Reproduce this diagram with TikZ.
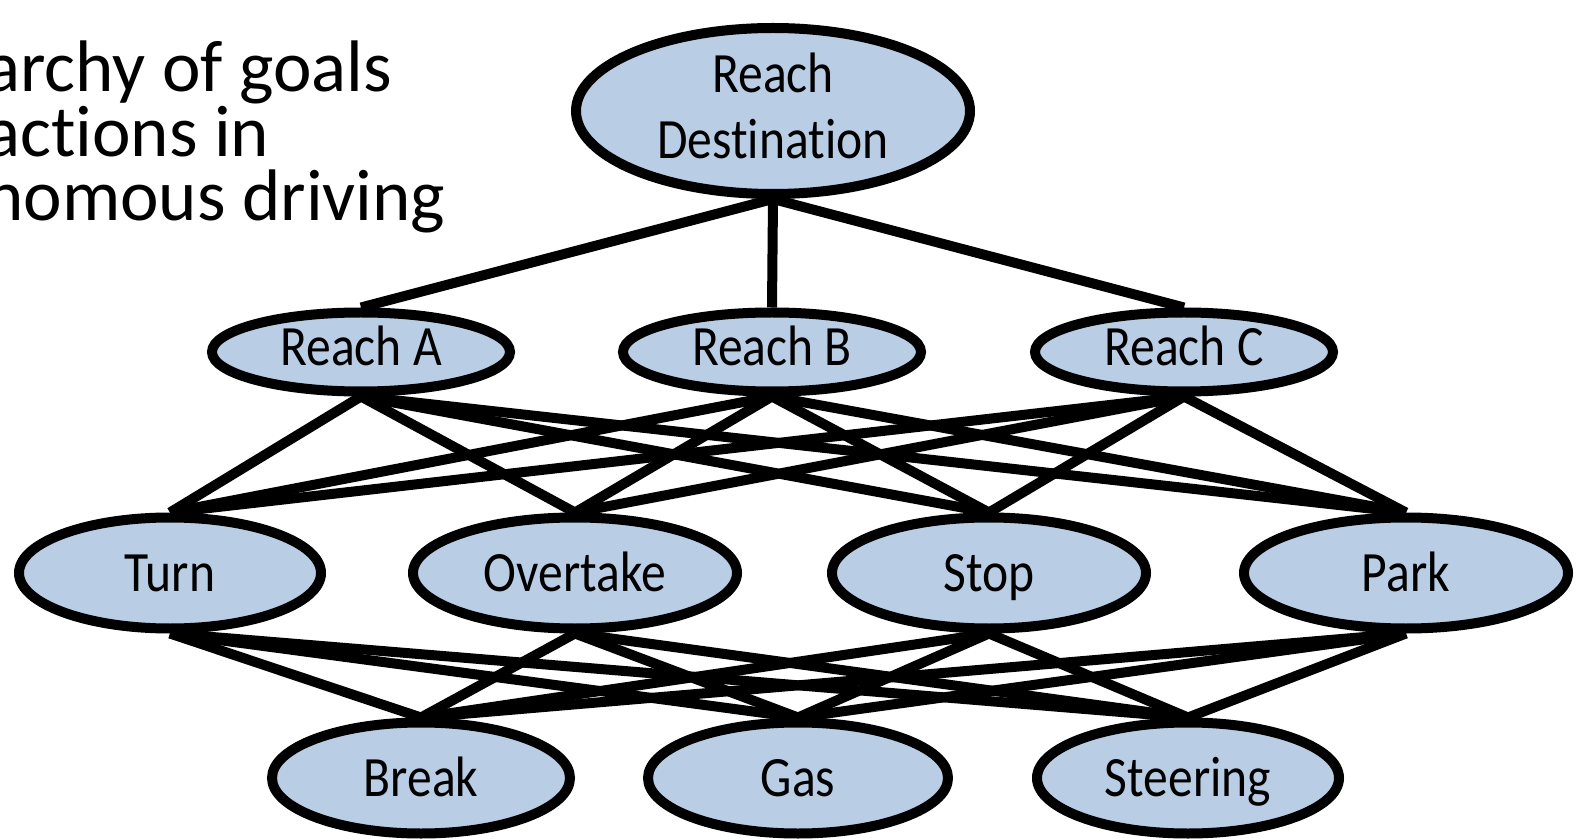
\documentclass[tikz,border=0pt]{standalone}
\usepackage{fontspec}
\setmainfont[Ligatures=NoCommon]{Carlito}
\newfontfamily\nodefont[FakeStretch=0.87,Ligatures=NoCommon]{Carlito}
\usetikzlibrary{shapes.geometric}
\pgfdeclarelayer{edges}
\pgfsetlayers{edges,main}
\definecolor{goalfill}{HTML}{B9CDE5}
\begin{document}
\begin{tikzpicture}[x=0.5pt,y=-0.5pt,
  goal/.style={ellipse, draw=black, line width=5pt, fill=goalfill,
    inner sep=0pt, align=center,
    font=\nodefont\fontsize{28.5pt}{33pt}\selectfont},
  goalwide/.style={goal, minimum width=#1, minimum height=55.5pt,
    text height=18pt, text depth=0pt},
  reach/.style={goal, minimum width=149pt, minimum height=39.5pt,
    text height=18pt, text depth=4pt},
  link/.style={line width=5pt, draw=black}]
\clip (0,0) rectangle (1585,839);

% title, running off the left edge
\node[anchor=base west, align=left, inner sep=0pt,
  font=\fontsize{36.5pt}{32.3pt}\selectfont] (title) at (-15,221)
  {archy of goals\\actions in\\nomous driving};

% top goal
\node[goal, minimum width=197pt, minimum height=83pt, text depth=5pt]
  (dest) at (773,111) {Reach\\Destination};

% intermediate goals
\node[reach] (ra) at (361,352) {Reach A};
\node[reach] (rb) at (772,352) {Reach B};
\node[reach] (rc) at (1184,352) {Reach C};

% manoeuvres
\node[goalwide=151pt] (turn) at (170,573) {Turn};
\node[goalwide=162pt] (over) at (575,573) {Overtake};
\node[goalwide=157pt] (stop) at (989,573) {Stop};
\node[goalwide=162pt] (park) at (1406,573) {Park};

% low-level actions
\node[goalwide=149pt] (brk) at (421,778) {Break};
\node[goalwide=150pt] (gas) at (798,778) {Gas};
\node[goalwide=151pt] (steer) at (1188,778) {Steering};

% connectors, drawn beneath the ellipses
\begin{pgfonlayer}{edges}
  \foreach \t in {ra,rb,rc}
    \draw[link] (dest.south) -- (\t.north);
  \foreach \s in {ra,rb,rc}
    \foreach \t in {turn,over,stop,park}
      \draw[link] (\s.south) -- (\t.north);
  \foreach \s in {turn,over,stop,park}
    \foreach \t in {brk,gas,steer}
      \draw[link] (\s.south) -- (\t.north);
\end{pgfonlayer}
\end{tikzpicture}
\end{document}
